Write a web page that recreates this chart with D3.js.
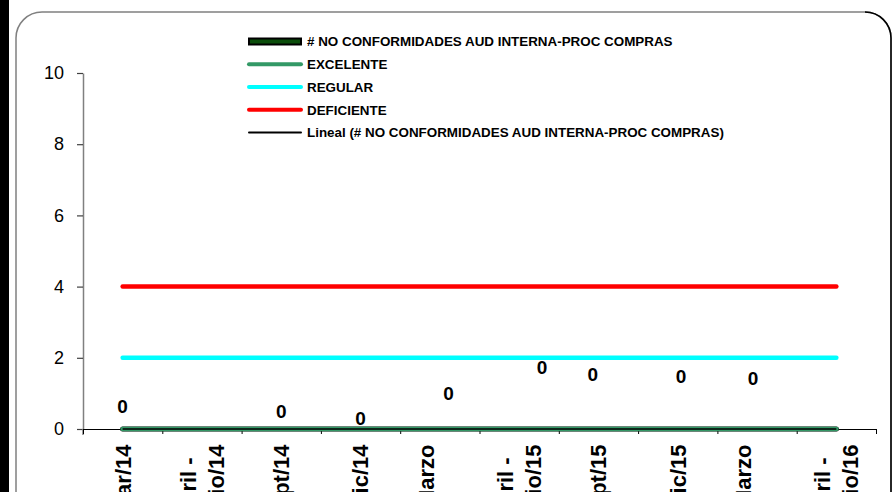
<!DOCTYPE html>
<html>
<head>
<meta charset="utf-8">
<script src="https://cdn.jsdelivr.net/npm/d3@7"></script>
<style>
  html, body { margin: 0; padding: 0; background: #fff; }
  svg { display: block; font-family: "Liberation Sans", Arial, sans-serif; }
</style>
</head>
<body>
<svg id="chart" width="892" height="492"></svg>
<script>
// ---- data ----
const categories = [
  "Enero - Mar/14", "Abril -\nJunio/14", "Julio - Sept/14", "Oct - Dic/14",
  "Enero - Marzo\n/15", "Abril -\nJunio/15", "Julio - Sept/15", "Oct - Dic/15",
  "Enero - Marzo\n/16", "Abril -\nJunio/16"
];
const noConformidades = [0, 0, 0, 0, 0, 0, 0, 0, 0, 0];
const excelente  = [0, 0, 0, 0, 0, 0, 0, 0, 0, 0];
const regular    = [2, 2, 2, 2, 2, 2, 2, 2, 2, 2];
const deficiente = [4, 4, 4, 4, 4, 4, 4, 4, 4, 4];
const lineal     = [0, 0, 0, 0, 0, 0, 0, 0, 0, 0];
// data label placement (value units / category units), null = no label
const labelY  = [0.63, null, 0.49, 0.31, 1.01, 1.74, 1.54, 1.49, 1.43, null];
const labelDX = [0, 0, 0, 0, 0.11, 0.29, -0.07, 0.04, -0.05, 0];
const yTicks = [0, 2, 4, 6, 8, 10];
const legendLabels = [
  "# NO CONFORMIDADES AUD INTERNA-PROC COMPRAS",
  "EXCELENTE",
  "REGULAR",
  "DEFICIENTE",
  "Lineal (# NO CONFORMIDADES AUD INTERNA-PROC COMPRAS)"
];

// ---- layout ----
const svg = d3.select("#chart");
const L = 83, R = 876, T = 73, B = 429;

// frame
svg.append("rect").attr("x", 0).attr("y", 0).attr("width", 9).attr("height", 492).attr("fill", "#000");
svg.append("rect").attr("x", 16).attr("y", 12).attr("width", 875).attr("height", 620)
  .attr("rx", 26).attr("fill", "#fff").attr("stroke", "#808080").attr("stroke-width", 1.5);
svg.append("path").attr("d", "M 865,12 A 26 26 0 0 1 891,38 L 891,492")
  .attr("fill", "none").attr("stroke", "#000").attr("stroke-width", 1.5);

const x = d3.scaleBand().domain(d3.range(categories.length)).range([L, R]).padding(0);
const xb = d3.scaleLinear().domain([0, categories.length]).range([L, R]);
const y = d3.scaleLinear().domain([0, 10]).range([B, T]);
const cx = i => x(i) + x.bandwidth() / 2;

// y axis
const ya = svg.append("g").attr("transform", `translate(${L},0)`)
  .call(d3.axisLeft(y).tickValues(yTicks).tickSize(6).tickPadding(13).tickSizeOuter(0));
ya.select(".domain").attr("stroke", "#808080").attr("stroke-width", 1.5);
ya.selectAll(".tick line").attr("stroke", "#404040").attr("stroke-width", 1.2);
ya.selectAll(".tick text").attr("font-size", 18).attr("fill", "#000")
  .attr("font-family", "Liberation Sans, Arial, sans-serif");
// extend y axis below origin slightly
svg.append("line").attr("x1", L).attr("x2", L).attr("y1", B).attr("y2", B + 6)
  .attr("stroke", "#808080").attr("stroke-width", 1.5);

// x axis
const xa = svg.append("g").attr("transform", `translate(0,${B})`)
  .call(d3.axisBottom(xb).tickValues(d3.range(categories.length + 1)).tickSize(5).tickFormat("").tickSizeOuter(0));
xa.select(".domain").attr("stroke", "#000").attr("stroke-width", 1.2);
xa.selectAll(".tick line").attr("stroke", "#000").attr("stroke-width", 1);

// x labels (rotated, centered multi-line)
const fsX = 22, lhX = 28;
categories.forEach((c, i) => {
  const lines = c.split("\n");
  const g = svg.append("g").attr("transform", `translate(${cx(i)},444.5) rotate(-90)`);
  const t = g.append("text").attr("font-size", fsX).attr("font-weight", "bold").attr("fill", "#000");
  const spans = lines.map((ln, j) => t.append("tspan").text(ln)
      .attr("y", (j - (lines.length - 1) / 2) * lhX + 0.36 * fsX));
  const maxLen = d3.max(spans, s => s.node().getComputedTextLength());
  spans.forEach(s => s.attr("x", -maxLen / 2).attr("text-anchor", "middle"));
});

// series lines
const line = vals => d3.line().x((d, i) => cx(i)).y(d => y(d))(vals);
svg.append("path").attr("d", line(noConformidades)).attr("fill", "none")
  .attr("stroke", "#000").attr("stroke-width", 5).attr("stroke-linecap", "round");
svg.append("path").attr("d", line(noConformidades)).attr("fill", "none")
  .attr("stroke", "#0b4d0b").attr("stroke-width", 3).attr("stroke-linecap", "round");
svg.append("path").attr("d", line(excelente)).attr("fill", "none")
  .attr("stroke", "#339966").attr("stroke-width", 4.5).attr("stroke-linecap", "round");
svg.append("path").attr("d", line(regular)).attr("fill", "none")
  .attr("stroke", "#00ffff").attr("stroke-width", 4.5).attr("stroke-linecap", "round");
svg.append("path").attr("d", line(deficiente)).attr("fill", "none")
  .attr("stroke", "#ff0000").attr("stroke-width", 4.5).attr("stroke-linecap", "round");
svg.append("path").attr("d", line(lineal)).attr("fill", "none")
  .attr("stroke", "#000").attr("stroke-width", 1.5);

// data labels
noConformidades.forEach((v, i) => {
  if (labelY[i] === null) return;
  svg.append("text").attr("x", cx(i) + labelDX[i] * x.bandwidth()).attr("y", y(labelY[i]))
    .attr("dy", "0.36em").attr("text-anchor", "middle")
    .attr("font-size", 19).attr("font-weight", "bold").attr("fill", "#000").text(v);
});

// legend
const lgY = d3.scaleLinear().domain([0, 4]).range([41.5, 132.5]);
const lg = svg.append("g");
legendLabels.forEach((lab, i) => {
  const yy = lgY(i);
  if (i === 0) {
    lg.append("rect").attr("x", 249).attr("y", yy - 3).attr("width", 52).attr("height", 6)
      .attr("fill", "#0b4d0b").attr("stroke", "#000").attr("stroke-width", 2);
  } else {
    const col = ["", "#339966", "#00ffff", "#ff0000", "#000"][i];
    lg.append("line").attr("x1", 249).attr("x2", 301).attr("y1", yy).attr("y2", yy)
      .attr("stroke", col).attr("stroke-width", i === 4 ? 2 : 4).attr("stroke-linecap", "round");
  }
  lg.append("text").attr("x", 307).attr("y", yy).attr("dy", "0.36em")
    .attr("font-size", 13.4).attr("font-weight", "bold").attr("fill", "#000").text(lab);
});
</script>
</body>
</html>
